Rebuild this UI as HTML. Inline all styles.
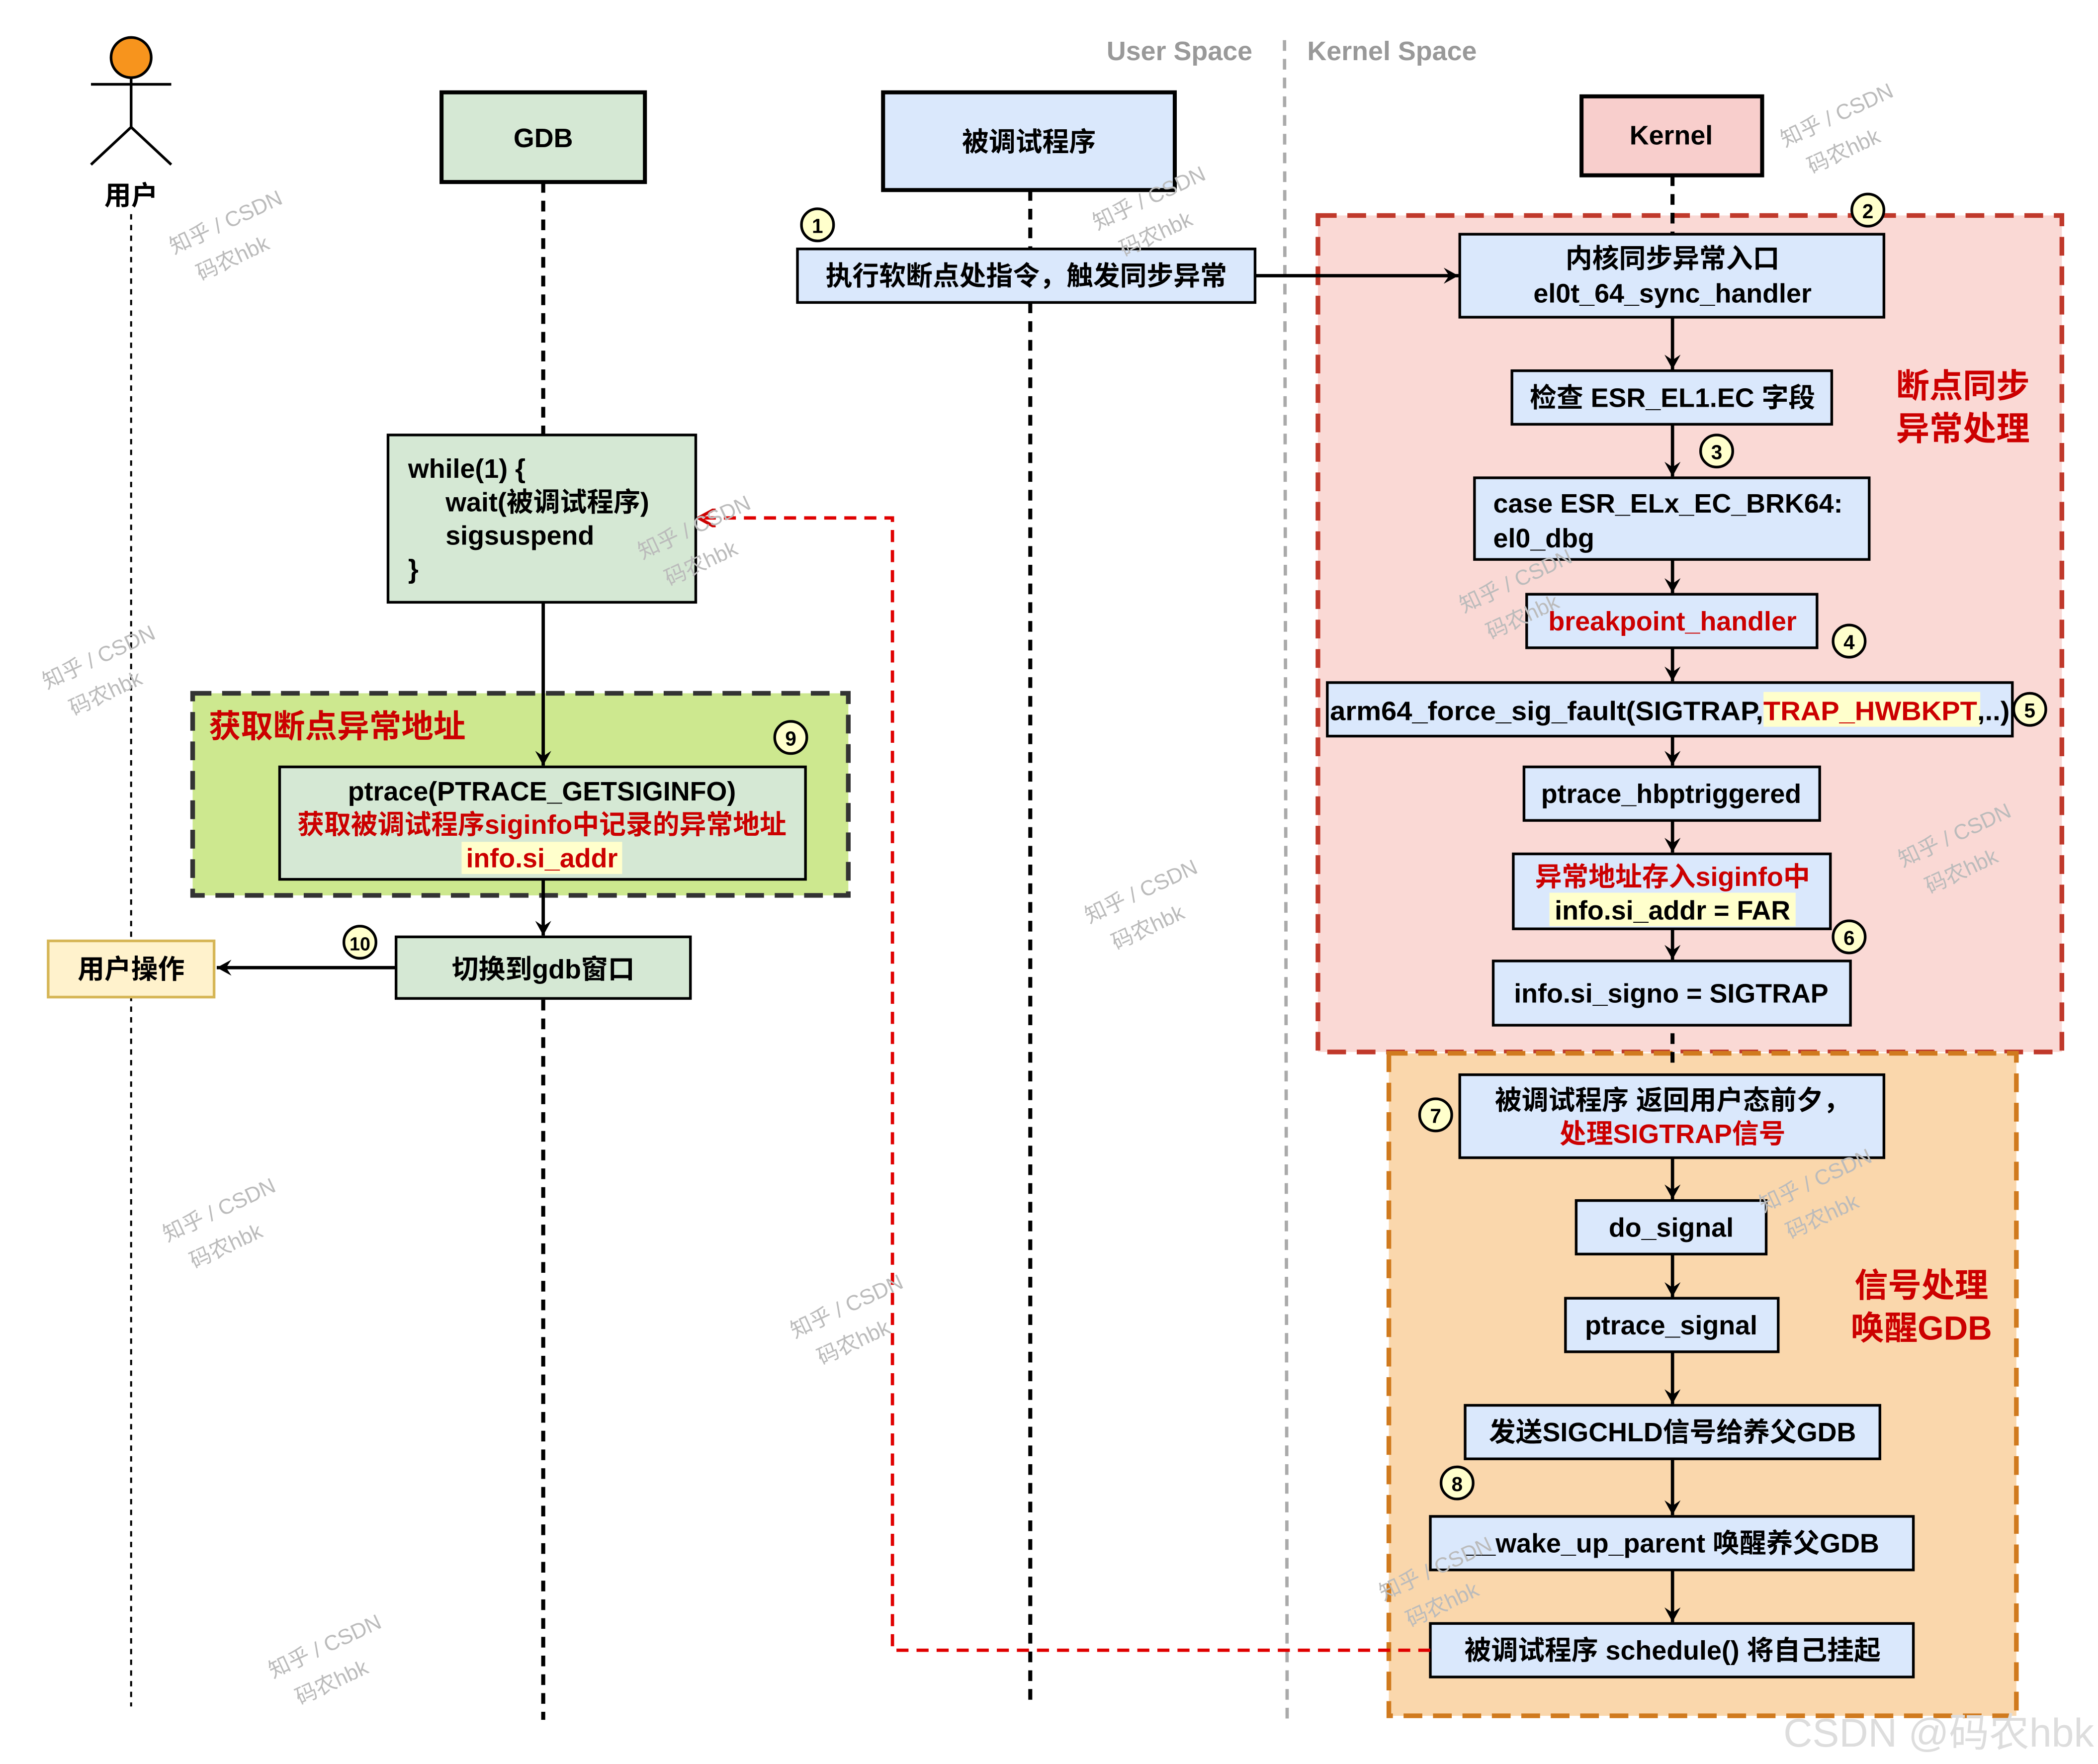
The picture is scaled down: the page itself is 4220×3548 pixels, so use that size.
<!DOCTYPE html>
<html><head><meta charset="utf-8"><style>
html,body{margin:0;padding:0;background:#fff}
svg{display:block}
text{font-family:"Liberation Sans","Noto Sans CJK SC",sans-serif;font-weight:bold;font-size:20px;fill:#000}
.c{text-anchor:middle}
.r{fill:#CC0000}
.wm{font-weight:normal;font-size:16px;fill:#bbb}
</style></head><body>
<svg width="4220" height="3548" viewBox="0 0 1568 1318" preserveAspectRatio="none" xmlns="http://www.w3.org/2000/svg">
<defs>
<marker id="a" viewBox="0 0 12 12" refX="11" refY="6" markerWidth="12" markerHeight="12" markerUnits="userSpaceOnUse" orient="auto">
<path d="M0,0 L11,6 L0,12 L4,6 Z" fill="#000"/></marker>
<marker id="ar" viewBox="0 0 12 12" refX="11" refY="6" markerWidth="14" markerHeight="14" markerUnits="userSpaceOnUse" orient="auto">
<path d="M0,0 L11,6 L0,12" fill="none" stroke="#CC0000" stroke-width="2"/></marker>
</defs>
<text x="936" y="45" style="text-anchor:end;fill:#999">User Space</text>
<text x="977" y="45" style="fill:#999">Kernel Space</text>
<line x1="960" y1="30" x2="962" y2="1290" stroke="#aaa" stroke-width="2.5" stroke-dasharray="8,6"/>
<rect x="985" y="161" width="556" height="625" fill="#FAD9D5" stroke="#C0392B" stroke-width="3.5" stroke-dasharray="14,8"/>
<rect x="1038" y="787" width="469" height="495" fill="#FAD7AC" stroke="#D07A1E" stroke-width="3.5" stroke-dasharray="14,8"/>
<rect x="144" y="518" width="490" height="151" fill="#CDE88F" stroke="#333" stroke-width="3.5" stroke-dasharray="14,8"/>
<circle cx="98" cy="43" r="15" fill="#F7941D" stroke="#000" stroke-width="2"/>
<line x1="98" y1="58" x2="98" y2="95" stroke="#000" stroke-width="2"/>
<line x1="68" y1="63" x2="128" y2="63" stroke="#000" stroke-width="2"/>
<path d="M68,123 L98,95 L128,123" fill="none" stroke="#000" stroke-width="2"/>
<text x="98" y="153" class="c">用户</text>
<line x1="98" y1="160" x2="98" y2="1275" stroke="#000" stroke-width="1.5" stroke-dasharray="4,4"/>
<line x1="406" y1="136" x2="406" y2="325" stroke="#000" stroke-width="3" stroke-dasharray="8,6"/>
<line x1="406" y1="747" x2="406" y2="1285" stroke="#000" stroke-width="3" stroke-dasharray="8,6"/>
<line x1="770" y1="142" x2="770" y2="1275" stroke="#000" stroke-width="3" stroke-dasharray="8,6"/>
<line x1="1250" y1="131" x2="1250" y2="175" stroke="#000" stroke-width="3" stroke-dasharray="8,6"/>
<line x1="1250" y1="772" x2="1250" y2="800" stroke="#000" stroke-width="3" stroke-dasharray="8,6"/>
<rect x="330" y="69" width="152" height="67" fill="#D5E8D4" stroke="#000" stroke-width="3"/>
<text x="406" y="110" class="c">GDB</text>
<rect x="660" y="69" width="218" height="73" fill="#DAE8FC" stroke="#000" stroke-width="3"/>
<text x="769" y="113" class="c">被调试程序</text>
<rect x="1182" y="72" width="135" height="59" fill="#F8CECC" stroke="#000" stroke-width="3"/>
<text x="1249" y="108" class="c">Kernel</text>
<rect x="596" y="186" width="342" height="40" fill="#DAE8FC" stroke="#000" stroke-width="2"/>
<text x="767" y="213" class="c">执行软断点处指令，触发同步异常</text>
<line x1="938" y1="206" x2="1090" y2="206" stroke="#000" stroke-width="2.5" marker-end="url(#a)"/>
<g stroke="#000" stroke-width="2" fill="#DAE8FC">
<rect x="1091" y="175" width="317" height="62"/>
<rect x="1130" y="277" width="239" height="40"/>
<rect x="1102" y="357" width="295" height="61"/>
<rect x="1141" y="444" width="217" height="40"/>
<rect x="992" y="510" width="512" height="40"/>
<rect x="1139" y="573" width="221" height="40"/>
<rect x="1131" y="638" width="237" height="56"/>
<rect x="1116" y="718" width="267" height="48"/>
<rect x="1091" y="803" width="317" height="62"/>
<rect x="1178" y="897" width="142" height="40"/>
<rect x="1170" y="970" width="159" height="40"/>
<rect x="1095" y="1050" width="310" height="40"/>
<rect x="1069" y="1133" width="361" height="40"/>
<rect x="1069" y="1213" width="361" height="40"/>
</g>
<g stroke="#000" stroke-width="2.5" marker-end="url(#a)">
<line x1="1250" y1="237" x2="1250" y2="276"/>
<line x1="1250" y1="317" x2="1250" y2="356"/>
<line x1="1250" y1="418" x2="1250" y2="443"/>
<line x1="1250" y1="484" x2="1250" y2="509"/>
<line x1="1250" y1="550" x2="1250" y2="572"/>
<line x1="1250" y1="613" x2="1250" y2="637"/>
<line x1="1250" y1="694" x2="1250" y2="717"/>
<line x1="1250" y1="865" x2="1250" y2="896"/>
<line x1="1250" y1="937" x2="1250" y2="969"/>
<line x1="1250" y1="1010" x2="1250" y2="1049"/>
<line x1="1250" y1="1090" x2="1250" y2="1132"/>
<line x1="1250" y1="1173" x2="1250" y2="1212"/>
</g>
<text x="1250" y="200" class="c">内核同步异常入口</text>
<text x="1250" y="226" class="c">el0t_64_sync_handler</text>
<text x="1250" y="304" class="c">检查 ESR_EL1.EC 字段</text>
<text x="1116" y="383">case ESR_ELx_EC_BRK64:</text>
<text x="1116" y="409">el0_dbg</text>
<text x="1250" y="471" class="c r">breakpoint_handler</text>
<rect x="1318" y="517" width="162" height="26" fill="#FFFFCC"/>
<text x="994" y="538" textLength="508" lengthAdjust="spacingAndGlyphs">arm64_force_sig_fault(SIGTRAP,<tspan style="fill:#CC0000">TRAP_HWBKPT</tspan>,..)</text>
<text x="1249" y="600" class="c">ptrace_hbptriggered</text>
<text x="1250" y="662" class="c r">异常地址存入siginfo中</text>
<rect x="1158" y="667" width="184" height="25" fill="#FFFFCC"/>
<text x="1250" y="687" class="c">info.si_addr = FAR</text>
<text x="1249" y="749" class="c">info.si_signo = SIGTRAP</text>
<text x="1250" y="829" class="c">被调试程序 返回用户态前夕，</text>
<text x="1250" y="854" class="c r">处理SIGTRAP信号</text>
<text x="1249" y="924" class="c">do_signal</text>
<text x="1249" y="997" class="c">ptrace_signal</text>
<text x="1250" y="1077" class="c">发送SIGCHLD信号给养父GDB</text>
<text x="1250" y="1160" class="c">__wake_up_parent 唤醒养父GDB</text>
<text x="1250" y="1240" class="c">被调试程序 schedule() 将自己挂起</text>
<text x="1467" y="297" class="c r" style="font-size:25px">断点同步</text>
<text x="1467" y="329" class="c r" style="font-size:25px">异常处理</text>
<text x="1436" y="969" class="c r" style="font-size:25px">信号处理</text>
<text x="1436" y="1001" class="c r" style="font-size:25px">唤醒GDB</text>
<path d="M1069,1233 L667,1233 L667,387 L522,387" fill="none" stroke="#E00000" stroke-width="2.5" stroke-dasharray="9,6" marker-end="url(#ar)"/>
<rect x="290" y="325" width="230" height="125" fill="#D5E8D4" stroke="#000" stroke-width="2"/>
<text x="305" y="357">while(1) {</text>
<text x="333" y="382">wait(被调试程序)</text>
<text x="333" y="407">sigsuspend</text>
<text x="305" y="432">}</text>
<line x1="406" y1="450" x2="406" y2="572" stroke="#000" stroke-width="2.5" marker-end="url(#a)"/>
<text x="156" y="551" class="r" style="font-size:24px">获取断点异常地址</text>
<rect x="209" y="573" width="393" height="84" fill="#D5E8D4" stroke="#000" stroke-width="2"/>
<text x="405" y="598" class="c">ptrace(PTRACE_GETSIGINFO)</text>
<text x="405" y="623" class="c r">获取被调试程序siginfo中记录的异常地址</text>
<rect x="345" y="629" width="120" height="24" fill="#FFFFCC"/>
<text x="405" y="648" class="c r">info.si_addr</text>
<line x1="406" y1="657" x2="406" y2="699" stroke="#000" stroke-width="2.5" marker-end="url(#a)"/>
<rect x="296" y="700" width="220" height="46" fill="#D5E8D4" stroke="#000" stroke-width="2"/>
<text x="406" y="731" class="c">切换到gdb窗口</text>
<line x1="296" y1="723" x2="162" y2="723" stroke="#000" stroke-width="2.5" marker-end="url(#a)"/>
<rect x="36" y="703" width="124" height="42" fill="#FFF2CC" stroke="#D6B656" stroke-width="2"/>
<text x="98" y="731" class="c">用户操作</text>
<g fill="#FFFFCC" stroke="#000" stroke-width="2">
<circle cx="611" cy="168" r="12"/><circle cx="1396" cy="157" r="12"/><circle cx="1283" cy="337" r="12"/>
<circle cx="1382" cy="479" r="12"/><circle cx="1517" cy="530" r="12"/><circle cx="1382" cy="700" r="12"/>
<circle cx="1073" cy="833" r="12"/><circle cx="1089" cy="1108" r="12"/><circle cx="591" cy="551" r="12"/>
<circle cx="269" cy="704" r="12"/>
</g>
<text x="611" y="174" class="c" style="font-size:15px">1</text>
<text x="1396" y="163" class="c" style="font-size:15px">2</text>
<text x="1283" y="343" class="c" style="font-size:15px">3</text>
<text x="1382" y="485" class="c" style="font-size:15px">4</text>
<text x="1517" y="536" class="c" style="font-size:15px">5</text>
<text x="1382" y="706" class="c" style="font-size:15px">6</text>
<text x="1073" y="839" class="c" style="font-size:15px">7</text>
<text x="1089" y="1114" class="c" style="font-size:15px">8</text>
<text x="591" y="557" class="c" style="font-size:15px">9</text>
<text x="269" y="710" class="c" style="font-size:14px">10</text>
<g class="wm">
<text class="wm" transform="translate(130,190) rotate(-25)">知乎 / CSDN</text><text class="wm" transform="translate(150,210) rotate(-25)">码农hbk</text>
<text class="wm" transform="translate(820,172) rotate(-25)">知乎 / CSDN</text><text class="wm" transform="translate(840,192) rotate(-25)">码农hbk</text>
<text class="wm" transform="translate(1334,110) rotate(-25)">知乎 / CSDN</text><text class="wm" transform="translate(1354,130) rotate(-25)">码农hbk</text>
<text class="wm" transform="translate(35,515) rotate(-25)">知乎 / CSDN</text><text class="wm" transform="translate(55,535) rotate(-25)">码农hbk</text>
<text class="wm" transform="translate(480,418) rotate(-25)">知乎 / CSDN</text><text class="wm" transform="translate(500,438) rotate(-25)">码农hbk</text>
<text class="wm" transform="translate(1094,458) rotate(-25)">知乎 / CSDN</text><text class="wm" transform="translate(1114,478) rotate(-25)">码农hbk</text>
<text class="wm" transform="translate(814,690) rotate(-25)">知乎 / CSDN</text><text class="wm" transform="translate(834,710) rotate(-25)">码农hbk</text>
<text class="wm" transform="translate(1422,648) rotate(-25)">知乎 / CSDN</text><text class="wm" transform="translate(1442,668) rotate(-25)">码农hbk</text>
<text class="wm" transform="translate(125,928) rotate(-25)">知乎 / CSDN</text><text class="wm" transform="translate(145,948) rotate(-25)">码农hbk</text>
<text class="wm" transform="translate(1318,906) rotate(-25)">知乎 / CSDN</text><text class="wm" transform="translate(1338,926) rotate(-25)">码农hbk</text>
<text class="wm" transform="translate(594,1000) rotate(-25)">知乎 / CSDN</text><text class="wm" transform="translate(614,1020) rotate(-25)">码农hbk</text>
<text class="wm" transform="translate(1034,1196) rotate(-25)">知乎 / CSDN</text><text class="wm" transform="translate(1054,1216) rotate(-25)">码农hbk</text>
<text class="wm" transform="translate(204,1254) rotate(-25)">知乎 / CSDN</text><text class="wm" transform="translate(224,1274) rotate(-25)">码农hbk</text>
</g>
<text x="1565" y="1305" style="text-anchor:end;font-weight:normal;font-size:30px;fill:#ddd">CSDN @码农hbk</text>
</svg>
</body></html>
